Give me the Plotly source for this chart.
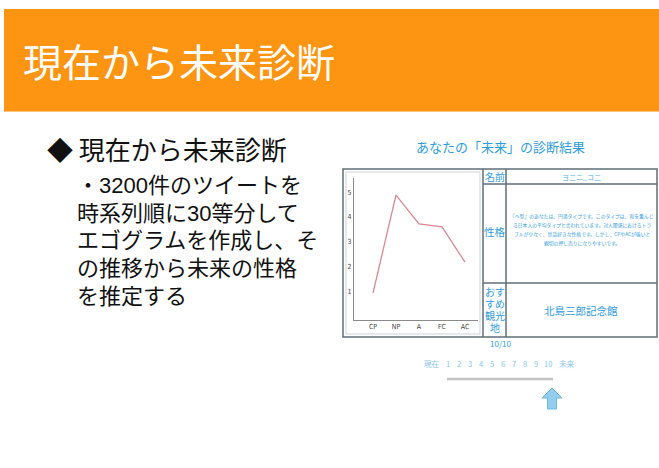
import plotly.graph_objects as go

# Egogram scores for the predicted future
categories = ["CP", "NP", "A", "FC", "AC"]
scores = [0.92, 4.88, 3.71, 3.59, 2.17]
y_ticks = [1, 2, 3, 4, 5]

# Slide texts
slide_title = "現在から未来診断"
bullet_head = "◆ 現在から未来診断"
bullet_lines = [
    "・3200件のツイートを",
    "時系列順に30等分して",
    "エゴグラムを作成し、そ",
    "の推移から未来の性格",
    "を推定する",
]
result_title = "あなたの「未来」の診断結果"
name_value = "ヨ二ニ_コ二"
personality_lines = [
    "『ヘ型』のあなたは、円満タイプです。このタイプは、和を重んじ",
    "る日本人の平均タイプと言われています。対人関係におけるトラ",
    "ブルが少なく、世話好きな性格です。しかし、CPやACが強いと",
    "親切の押し売りになりやすいです。",
]
spot_label = ["おす", "すめ", "観光", "地"]
spot_value = "北島三郎記念館"
steps = ["現在", "1", "2", "3", "4", "5", "6", "7", "8", "9", "10", "未来"]
current_step = 10
total_steps = 10

W, H = 659, 468
JP = "Noto Sans CJK JP"
# Latin font first (compact line box, Arial-like digits), CJK glyphs fall back
MIXED = "Liberation Sans, Noto Sans CJK JP"
BLUE = "#2f9bd8"
LIGHT_BLUE = "#86c6ea"


def X(px):
    return px / W


def Y(py):
    return 1 - py / H


fig = go.Figure()
fig.add_trace(go.Scatter(
    x=categories, y=scores, mode="lines",
    line=dict(color="#d98893", width=1.3),
    hoverinfo="skip", showlegend=False,
))

shapes = []
annotations = []


def rect(x0, y0, x1, y1, **kw):
    shapes.append(dict(type="rect", xref="paper", yref="paper",
                       x0=X(x0), x1=X(x1), y0=Y(y1), y1=Y(y0), **kw))


def line(x0, y0, x1, y1, color, width):
    shapes.append(dict(type="line", xref="paper", yref="paper",
                       x0=X(x0), x1=X(x1), y0=Y(y0), y1=Y(y1),
                       line=dict(color=color, width=width)))


def text(px, py, s, size, color, family=JP, xanchor="center", align="center"):
    annotations.append(dict(xref="paper", yref="paper", x=X(px), y=Y(py),
                            text=s, showarrow=False, xanchor=xanchor,
                            yanchor="middle", align=align, borderpad=0,
                            font=dict(family=family, size=size, color=color)))


# Orange title banner
rect(4, 9, 659, 112, fillcolor="#fd9412", line=dict(width=0), layer="below")
line(4, 111.5, 659, 111.5, "#fdc480", 1)
text(22, 60, slide_title, 39, "white", xanchor="left")

# Bullet text
text(46, 148, bullet_head, 26, "#111111", xanchor="left")
body_y = [186, 213.5, 241, 268.5, 296.5]
for by, s in zip(body_y, bullet_lines):
    text(76, by, s, 22, "#111111", family=MIXED, xanchor="left")

# Result card
text(500, 146, result_title, 13, BLUE)
rect(346, 172, 480, 334, line=dict(color="#cfd5d9", width=1))
rect(343, 169, 657, 337, line=dict(color="#5f6e78", width=1.5))
line(483, 169, 483, 337, "#5f6e78", 1.5)
line(506, 169, 506, 337, "#5f6e78", 1.5)
line(483, 184, 657, 184, "#5f6e78", 1.5)
line(483, 283, 657, 283, "#5f6e78", 1.5)

text(494.5, 176.5, "名前", 10, BLUE)
text(581, 176.5, name_value, 7, "#4fb3ee")
text(494.5, 231, "性格", 10.5, BLUE)
for i, s in enumerate(personality_lines):
    text(581.5, 216 + i * 9, s, 4.8, BLUE)
for i, s in enumerate(spot_label):
    text(494.5, 292 + i * 12, s, 10, BLUE, family=MIXED)
text(581, 310, spot_value, 10.5, BLUE)

# Progress scale
text(500, 343, f"{current_step}/{total_steps}", 8, BLUE)
step_x = [432, 448, 459, 470, 481, 492, 503, 514, 525, 536, 548, 567]
for sx, s in zip(step_x, steps):
    text(sx, 363, s, 7.5, LIGHT_BLUE)
line(447, 379, 553, 379, "#c3c3c3", 2.5)
ax = step_x[steps.index(str(current_step))] + 4
arrow = [(ax, 388), (ax + 10, 398), (ax + 4.5, 398), (ax + 4.5, 409),
         (ax - 4.5, 409), (ax - 4.5, 398), (ax - 10, 398)]
path = "M " + " L ".join(f"{X(px)},{Y(py)}" for px, py in arrow) + " Z"
shapes.append(dict(type="path", xref="paper", yref="paper", path=path,
                   fillcolor="#92cdec", line=dict(color="#6cb8e4", width=1)))

tick_font = dict(family="Liberation Sans Narrow, DejaVu Sans Condensed", size=7,
                 color="#444444")
fig.update_layout(
    width=W, height=H,
    margin=dict(l=0, r=0, t=0, b=0),
    paper_bgcolor="white", plot_bgcolor="white",
    shapes=shapes, annotations=annotations,
    xaxis=dict(domain=[X(354), X(478)], range=[-0.826, 4.565],
               type="category", showgrid=False, zeroline=False,
               showline=True, linecolor="#8a8a8a", linewidth=1,
               ticks="", tickfont=tick_font, fixedrange=True),
    yaxis=dict(domain=[Y(320), Y(178)], range=[-0.17, 5.57],
               tickvals=y_ticks, showgrid=False, zeroline=False,
               showline=True, linecolor="#8a8a8a", linewidth=1,
               ticks="", tickfont=tick_font, fixedrange=True),
)

fig.write_html("out.html")
